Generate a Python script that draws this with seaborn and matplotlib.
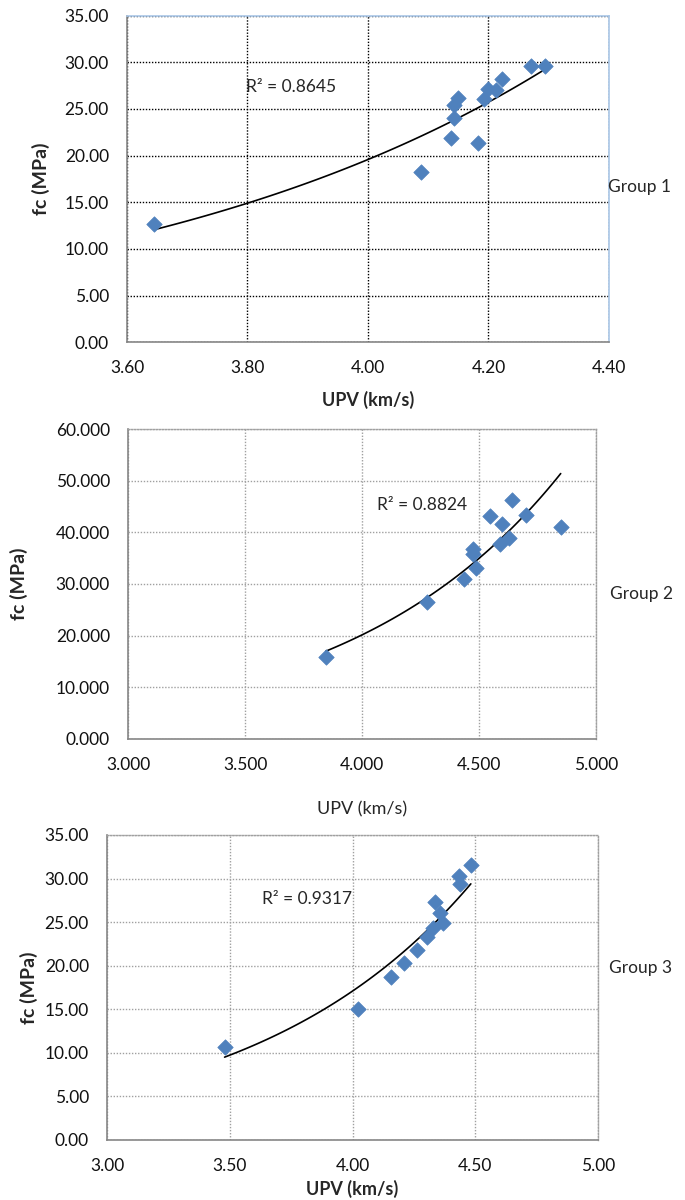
import numpy as np
import pandas as pd
import matplotlib
matplotlib.use("Agg")
import matplotlib.pyplot as plt
from matplotlib.ticker import FormatStrFormatter, MultipleLocator
import seaborn as sns

# data
upv_g1 = [3.645, 4.088, 4.138, 4.183, 4.142, 4.142, 4.150, 4.193, 4.200, 4.213, 4.222, 4.271, 4.293]
fc_g1 = [12.64, 18.25, 21.86, 21.32, 24.0, 25.4, 26.2, 26.1, 27.1, 27.0, 28.2, 29.6, 29.6]

upv_g2 = [3.845, 4.277, 4.437, 4.486, 4.476, 4.476, 4.588, 4.627, 4.597, 4.548, 4.642, 4.700, 4.849]
fc_g2 = [15.8, 26.6, 31.0, 33.1, 35.9, 36.7, 37.7, 38.9, 41.6, 43.1, 46.3, 43.4, 41.0]

upv_g3 = [3.479, 4.022, 4.158, 4.211, 4.261, 4.304, 4.327, 4.370, 4.357, 4.336, 4.432, 4.439, 4.482]
fc_g3 = [10.67, 15.03, 18.75, 20.35, 21.8, 23.3, 24.3, 24.9, 26.1, 27.35, 30.3, 29.4, 31.6]

r2_labels = ["R\u00b2 = 0.8645", "R\u00b2 = 0.8824", "R\u00b2 = 0.9317"]
group_names = ["Group 1", "Group 2", "Group 3"]

BLUE = "#4F81BD"
GRAY = "#868686"

sns.set_theme(style="white")
plt.rcParams["font.family"] = ["Lato", "DejaVu Sans"]

fig = plt.figure(figsize=(6.85, 12), dpi=100)


def exp_trend(x, y):
    """Excel style exponential trendline y = a*exp(bx)"""
    b, lna = np.polyfit(x, np.log(y), 1)
    xs = np.linspace(min(x), max(x), 100)
    return pd.DataFrame({"x": xs, "y": np.exp(lna) * np.exp(b * xs)})


def draw_panel(rect, x, y, xlim, ylim, xstep, ystep, fmt, grid_color, r2, r2_xy,
               xlabel_bold, xlabel_y, ylabel_x):
    ax = fig.add_axes(rect)
    df = pd.DataFrame({"upv": x, "fc": y})
    trend = exp_trend(x, y)
    sns.lineplot(data=trend, x="x", y="y", ax=ax, color="black", lw=1.2, zorder=2)
    sns.scatterplot(data=df, x="upv", y="fc", ax=ax, marker="D", s=62,
                    color=BLUE, edgecolor=BLUE, linewidth=0.5, zorder=3)
    ax.set_xlim(*xlim)
    ax.set_ylim(*ylim)
    ax.xaxis.set_major_locator(MultipleLocator(xstep))
    ax.yaxis.set_major_locator(MultipleLocator(ystep))
    ax.xaxis.set_major_formatter(FormatStrFormatter(fmt))
    ax.yaxis.set_major_formatter(FormatStrFormatter(fmt))
    ax.grid(True, color=grid_color, linestyle=(0, (1, 1.2)), lw=1.0)
    ax.set_axisbelow(True)
    for side in ["left", "bottom"]:
        ax.spines[side].set_color(GRAY)
        ax.spines[side].set_linewidth(1.2)
    ax.tick_params(axis="both", which="major", direction="out", length=4,
                   width=1, color=GRAY, labelsize=12.5, pad=9, labelcolor="#111111")
    ax.set_xlabel("UPV (km/s)", fontsize=13,
                  fontweight="bold" if xlabel_bold else "normal")
    ax.xaxis.set_label_coords(0.5, xlabel_y)
    ax.set_ylabel("fc (MPa)", fontsize=14, fontweight="bold")
    ax.yaxis.set_label_coords(ylabel_x, 0.5)
    ax.text(r2_xy[0], r2_xy[1], r2, fontsize=12.5, ha="left", va="center")
    return ax


ax1 = draw_panel([0.1854, 0.7148, 0.7036, 0.2722], upv_g1, fc_g1, (3.6, 4.4), (0, 35),
                 0.2, 5, "%.2f", "black", r2_labels[0], (3.797, 27.4), True, -0.15, -0.16)
ax1.spines["top"].set_color("#A9C6E6")
ax1.spines["right"].set_color("#A9C6E6")
ax1.spines["top"].set_linewidth(1.2)
ax1.spines["right"].set_linewidth(1.2)

ax2 = draw_panel([0.1869, 0.3842, 0.6832, 0.2583], upv_g2, fc_g2, (3.0, 5.0), (0, 60),
                 0.5, 10, "%.3f", "#A0A0A0", r2_labels[1], (4.064, 45.2), False, -0.2, -0.214)
ax3 = draw_panel([0.1562, 0.0500, 0.7168, 0.2542], upv_g3, fc_g3, (3.0, 5.0), (0, 35),
                 0.5, 5, "%.2f", "#A0A0A0", r2_labels[2], (3.633, 27.66), True, -0.13, -0.14)
for ax in (ax2, ax3):
    for side in ["top", "right"]:
        ax.spines[side].set_color("#A0A0A0")
        ax.spines[side].set_linestyle((0, (1, 1.2)))
        ax.spines[side].set_linewidth(1.0)

fig.text(0.888, 0.844, group_names[0], fontsize=12.5, va="center", ha="left")
fig.text(0.891, 0.505, group_names[1], fontsize=12.5, va="center", ha="left")
fig.text(0.889, 0.193, group_names[2], fontsize=12.5, va="center", ha="left")

fig.savefig("out.png", dpi=100, facecolor="white")
